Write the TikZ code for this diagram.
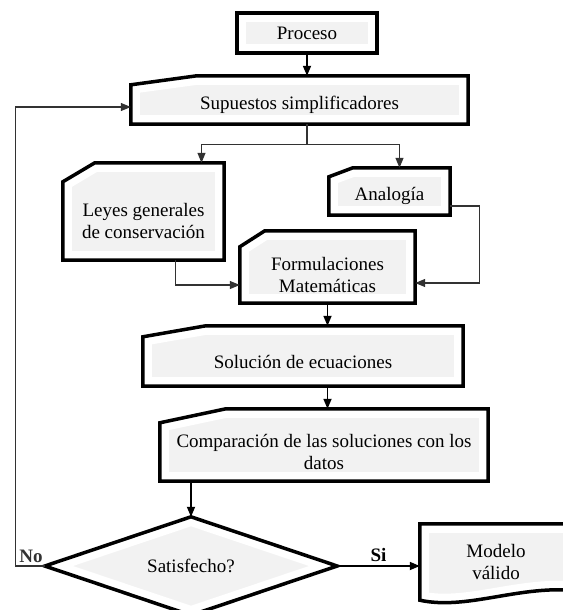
\documentclass[tikz,border=0pt]{standalone}
\usepackage{fontspec}
\setmainfont{Liberation Serif}
\usepackage{tikz}
\usetikzlibrary{shapes.geometric,arrows.meta,positioning,calc,backgrounds}
\definecolor{boxgray}{RGB}{242,242,242}
\definecolor{linegray}{RGB}{50,50,50}

\tikzset{
    boxfill/.style={fill=boxgray, draw=white, line width=18pt, line join=round,
        postaction={draw=black, fill=none, line width=#1, line join=miter}},
    boxfill/.default=3.5pt
}
% manual input shape: node is the part below the slanted top
\newcommand{\manualbox}[3]{%
    \begin{pgfonlayer}{background}
        \path[boxfill] (#1.south west) -- (#1.north west) -- ++(#2,-#3) -| (#1.south east) -- cycle;
    \end{pgfonlayer}
    \coordinate (#1-top) at ($(#1.north)+(0,-#3)$);
}

\begin{document}
\begin{tikzpicture}[
    x=1pt, y=-1pt,
    font=\fontsize{19}{22}\selectfont,
    box/.style={rectangle, inner sep=0pt, align=center},
    decision/.style={diamond, aspect=3, inner sep=0pt, minimum width=292pt, minimum height=98pt},
    lbl/.style={inner sep=3pt, font=\fontsize{19}{22}\selectfont\bfseries},
    arrow/.style={-{Triangle[length=10pt,width=8pt]}, line width=1.7pt},
    thinarrow/.style={-{Triangle[length=10pt,width=8pt]}, line width=1.2pt, linegray},
    thinline/.style={line width=1.2pt, linegray}
]
    \useasboundingbox (0,0) rectangle (562,610);

    \node[box, minimum width=140pt, minimum height=40pt] (proc) at (307,33) {Proceso};
    \node[box, minimum width=337pt, minimum height=39pt] (sup) at (299.5,104.5) {Supuestos simplificadores};
    \node[box, minimum width=161pt, minimum height=78pt] (leyes) at (143.5,221) {Leyes generales\\de conservación};
    \node[box, minimum width=121pt, minimum height=38pt] (anal) at (389.5,196) {Analogía};
    \node[box, minimum width=175pt, minimum height=56pt] (form) at (327.5,275) {Formulaciones\\Matemáticas};
    \node[box, minimum width=320pt, minimum height=49pt] (sol) at (303,361.5) {Solución de ecuaciones};
    \node[box, minimum width=328pt, minimum height=58pt] (comp) at (324,452) {Comparación de las soluciones con los\\datos};
    \node[decision] (dec) at (191,566) {Satisfecho?};
    \node[box, minimum width=152pt, minimum height=76pt] (mod) at (496,562) {Modelo\\válido};

    \begin{pgfonlayer}{background}
        \path[boxfill=4.5pt] (proc.south west) rectangle (proc.north east);
        \path[boxfill] (dec.north) -- (dec.east) -- (dec.south) -- (dec.west) -- cycle;
        \path[boxfill] (mod.south west) -- (mod.north west) -- (mod.north east) -- ($(mod.south east)+(0,-10)$)
            .. controls ($(mod.south)+(20,-14)$) and ($(mod.south)+(-30,10)$) .. (mod.south west) -- cycle;
    \end{pgfonlayer}
    \manualbox{sup}{66}{9}
    \manualbox{leyes}{32}{19}
    \manualbox{anal}{24}{9}
    \manualbox{form}{25}{16}
    \manualbox{sol}{63}{11}
    \manualbox{comp}{66}{14}

    \coordinate (split) at ($(proc.south |- sup.south)+(0,20)$);

    \draw[arrow] (proc.south) -- (proc.south |- sup-top);
    \draw[thinline] (proc.south |- sup.south) -- (split);
    \draw[thinarrow] (split) -| ($(leyes-top)+(58,0)$);
    \draw[thinarrow] (split) -| ($(anal-top)+(10,0)$);
    \draw[thinarrow] ($(leyes.south)+(32,0)$) |- ($(form.west)+(0,10)$);
    \draw[thinarrow] ($(anal.east)+(0,10)$) -- ++(29,0) |- ($(form.east)+(0,8)$);
    \draw[arrow] (form.south) -- (form.south |- sol-top);
    \draw[arrow] (form.south |- sol.south) -- (form.south |- comp-top);
    \draw[arrow] (comp.south -| dec.north) -- (dec.north);
    \draw[arrow] (dec.east) -- node[lbl, above] {Si} (dec.east -| mod.west);
    \draw[thinarrow] (dec.west) -- ++(-29,0) node[lbl, above right] {No} |- ($(sup.west)+(0,2.5)$);
\end{tikzpicture}
\end{document}
